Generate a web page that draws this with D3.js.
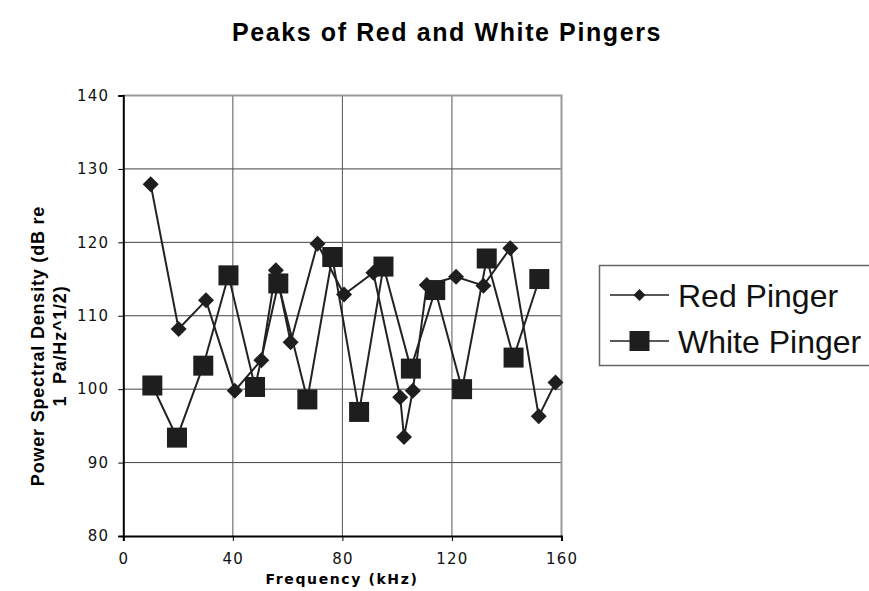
<!DOCTYPE html>
<html><head><meta charset="utf-8">
<script src="https://cdn.jsdelivr.net/npm/d3@7"></script>
<style>body{margin:0;background:#fff}</style>
</head><body>
<svg id="c" width="869" height="591"></svg>
<script>
const title = "Peaks of Red and White Pingers";
const xLabel = "Frequency (kHz)";
const yLabelLines = ["Power Spectral Density (dB re", "1  Pa/Hz^1/2)"];
const xTicks = [0, 40, 80, 120, 160];
const yTicks = [80, 90, 100, 110, 120, 130, 140];
const redFreq = [10, 20.2, 30.2, 40.7, 50.4, 55.7, 61.1, 70.9, 80.6, 91.3, 101.1, 102.5, 105.7, 110.8, 121.5, 131.5, 141.3, 151.7, 157.8];
const redVal  = [127.9, 108.2, 112.1, 99.8, 103.95, 116.2, 106.4, 119.8, 112.9, 115.85, 98.9, 93.5, 99.8, 114.2, 115.3, 114.1, 119.2, 96.3, 100.9];
const whiteFreq = [10.6, 19.6, 29.2, 38.4, 48.1, 56.6, 67.2, 76.3, 86.1, 95.0, 105.0, 113.9, 123.7, 132.7, 142.5, 151.9];
const whiteVal  = [100.5, 93.4, 103.2, 115.5, 100.3, 114.4, 98.6, 118.0, 96.9, 116.7, 102.8, 113.5, 100.0, 117.8, 104.3, 115.0];
const seriesNames = ["Red Pinger", "White Pinger"];

const svg = d3.select("#c");
const x = d3.scaleLinear().domain([0, 160]).range([123.3, 561.5]);
const y = d3.scaleLinear().domain([80, 140]).range([536, 95.5]);
const ink = "#222";

// gridlines
svg.append("g").selectAll("line").data(yTicks.filter(t => t > 80 && t < 140)).join("line")
  .attr("x1", x(0)).attr("x2", x(160)).attr("y1", d => y(d)).attr("y2", d => y(d))
  .attr("stroke", "#444").attr("stroke-width", 1);
svg.append("g").selectAll("line").data(xTicks.filter(t => t > 0 && t < 160)).join("line")
  .attr("x1", d => x(d)).attr("x2", d => x(d)).attr("y1", y(80)).attr("y2", y(140))
  .attr("stroke", "#555").attr("stroke-width", 1);
// top and right border
svg.append("path").attr("d", `M${x(0)},${y(140)}H${x(160)}V${y(80)}`)
  .attr("fill", "none").attr("stroke", "#999").attr("stroke-width", 2);

// axes
const xAxis = d3.axisBottom(x).tickValues(xTicks).tickSize(5).tickPadding(12).tickFormat(d3.format("d"));
const yAxis = d3.axisLeft(y).tickValues(yTicks).tickSize(5).tickPadding(9).tickFormat(d3.format("d"));
const gx = svg.append("g").attr("transform", `translate(0,${y(80)})`).call(xAxis);
const gy = svg.append("g").attr("transform", `translate(${x(0)},0)`).call(yAxis);
[gx, gy].forEach(g => {
  g.select(".domain").attr("stroke", "#000").attr("stroke-width", 2);
  g.selectAll(".tick line").attr("stroke", "#000");
  g.selectAll("text").attr("font-family", "DejaVu Sans").attr("font-size", 15)
    .attr("letter-spacing", 1.2).attr("fill", "#111");
});

// series lines
const line = d3.line().x(d => x(d[0])).y(d => y(d[1]));
const redPts = redFreq.map((f, i) => [f, redVal[i]]);
const whitePts = whiteFreq.map((f, i) => [f, whiteVal[i]]);
svg.append("path").datum(redPts).attr("d", line).attr("fill", "none").attr("stroke", ink).attr("stroke-width", 2);
svg.append("path").datum(whitePts).attr("d", line).attr("fill", "none").attr("stroke", ink).attr("stroke-width", 2);

svg.append("g").selectAll("path").data(redPts).join("path")
  .attr("transform", d => `translate(${x(d[0])},${y(d[1])})`)
  .attr("d", "M0,-8L8,0L0,8L-8,0Z").attr("fill", "#1e1e1e");
svg.append("g").selectAll("rect").data(whitePts).join("rect")
  .attr("x", d => x(d[0]) - 10).attr("y", d => y(d[1]) - 10)
  .attr("width", 20).attr("height", 20).attr("fill", "#1e1e1e");

// title
svg.append("text").attr("x", 447).attr("y", 41).attr("text-anchor", "middle")
  .attr("font-family", "Liberation Sans, Arial").attr("font-weight", "bold")
  .attr("font-size", 25).attr("letter-spacing", 1.6).text(title);

// x label
svg.append("text").attr("x", 342).attr("y", 584).attr("text-anchor", "middle")
  .attr("font-family", "DejaVu Sans").attr("font-weight", "bold")
  .attr("font-size", 14).attr("letter-spacing", 1.6).text(xLabel);

// y label
const yl = svg.append("text").attr("transform", "translate(0,346) rotate(-90)")
  .attr("text-anchor", "middle").attr("font-family", "Liberation Sans, Arial")
  .attr("font-weight", "bold").attr("font-size", 18).attr("letter-spacing", 0.8);
yl.append("tspan").attr("x", 0).attr("y", 44).text(yLabelLines[0]);
yl.append("tspan").attr("x", 0).attr("y", 66).style("white-space", "pre").text(yLabelLines[1]);

// legend
const lg = svg.append("g");
lg.append("rect").attr("x", 599.5).attr("y", 265.5).attr("width", 290).attr("height", 100)
  .attr("fill", "#fff").attr("stroke", "#666").attr("stroke-width", 1.5);
const rowY = [295, 341];
seriesNames.forEach((name, i) => {
  lg.append("line").attr("x1", 610).attr("x2", 669).attr("y1", rowY[i]).attr("y2", rowY[i])
    .attr("stroke", ink).attr("stroke-width", 1.5);
  if (i === 0) {
    lg.append("path").attr("transform", `translate(639.5,${rowY[i]})`)
      .attr("d", "M0,-6L6,0L0,6L-6,0Z").attr("fill", "#1e1e1e");
  } else {
    lg.append("rect").attr("x", 629.5).attr("y", rowY[i] - 10).attr("width", 20).attr("height", 20).attr("fill", "#1e1e1e");
  }
  lg.append("text").attr("x", 678).attr("y", rowY[i] + 11.5)
    .attr("font-family", "Liberation Sans, Arial").attr("font-size", 32).attr("fill", "#111").text(name);
});
</script>
</body></html>
